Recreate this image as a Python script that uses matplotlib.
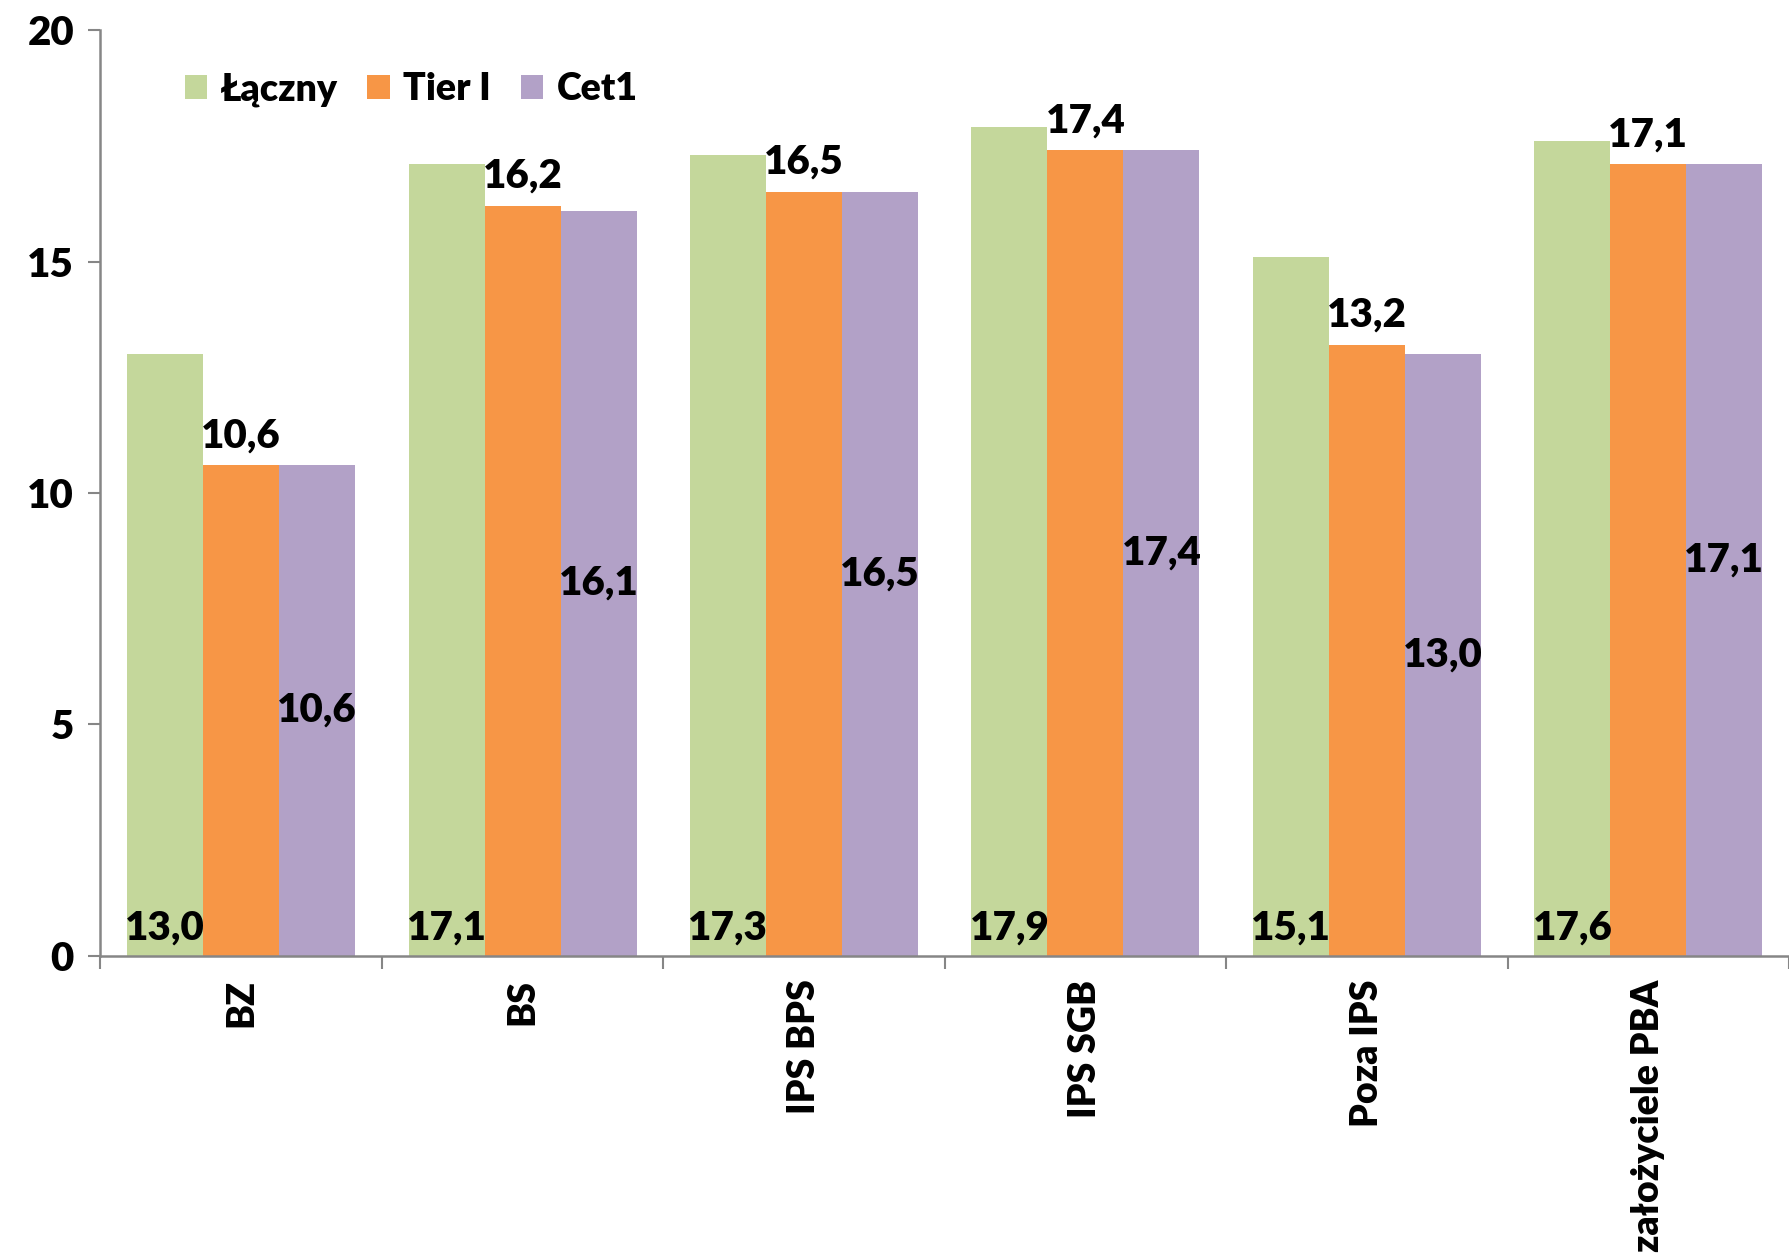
import numpy as np
import matplotlib.pyplot as plt

plt.rcParams['font.family'] = ['Lato', 'DejaVu Sans']
plt.rcParams['font.weight'] = 'heavy'

categories = ['BZ', 'BS', 'IPS BPS', 'IPS SGB', 'Poza IPS', 'założyciele PBA']
laczny = [13.0, 17.1, 17.3, 17.9, 15.1, 17.6]
tier1 = [10.6, 16.2, 16.5, 17.4, 13.2, 17.1]
cet1 = [10.6, 16.1, 16.5, 17.4, 13.0, 17.1]

c_green = '#C4D79B'
c_orange = '#F79646'
c_purple = '#B2A1C7'
axis_col = '#868686'

fig = plt.figure(figsize=(17.89, 12.56), dpi=100)
ax = fig.add_axes([0.0561, 0.239, 0.9439, 0.737])

x = np.arange(len(categories))
w = 0.27
b1 = ax.bar(x - w, laczny, w, color=c_green, label='Łączny')
b2 = ax.bar(x, tier1, w, color=c_orange, label='Tier I')
b3 = ax.bar(x + w, cet1, w, color=c_purple, label='Cet1')

fmt = lambda v: f'{v:.1f}'.replace('.', ',')
fs = 29      # numbers
fs_cat = 27  # category labels and legend
wt = 'heavy'

# Łączny labels at bar base
for xi, v in zip(x - w, laczny):
    ax.annotate(fmt(v), xy=(xi, 0), xytext=(0, 7), textcoords='offset points',
                ha='center', va='bottom', fontsize=fs, fontweight=wt)
ax.bar_label(b2, labels=[fmt(v) for v in tier1], padding=8, fontsize=fs, fontweight=wt)
ax.bar_label(b3, labels=[fmt(v) for v in cet1], label_type='center', fontsize=fs, fontweight=wt)

ax.set_ylim(0, 20)
ax.set_xlim(-0.5, 5.47)
ax.set_yticks([0, 5, 10, 15, 20])
ax.set_yticklabels(['0', '5', '10', '15', '20'], fontsize=fs, fontweight=wt)

ax.set_xticks(np.arange(-0.5, 6, 1.0))
ax.set_xticklabels([])
ax.set_xticks(x, minor=True)
ax.set_xticklabels(categories, minor=True, rotation=90, va='top', ha='center',
                   fontsize=fs_cat, fontweight=wt)
ax.tick_params(axis='x', which='minor', length=0, pad=17)
ax.tick_params(axis='x', which='major', length=9, width=1.5, color=axis_col)
ax.tick_params(axis='y', length=9, width=1.5, color=axis_col, pad=10)

for s in ['top', 'right']:
    ax.spines[s].set_visible(False)
for s in ['left', 'bottom']:
    ax.spines[s].set_color(axis_col)
    ax.spines[s].set_linewidth(1.8)

ax.legend(loc='center left', bbox_to_anchor=(0.03, 0.936), ncol=3, frameon=False,
          handlelength=0.6, handleheight=0.6, handletextpad=0.35,
          columnspacing=0.8, prop={'weight': wt, 'size': fs_cat})

fig.savefig('out.png', dpi=100)
